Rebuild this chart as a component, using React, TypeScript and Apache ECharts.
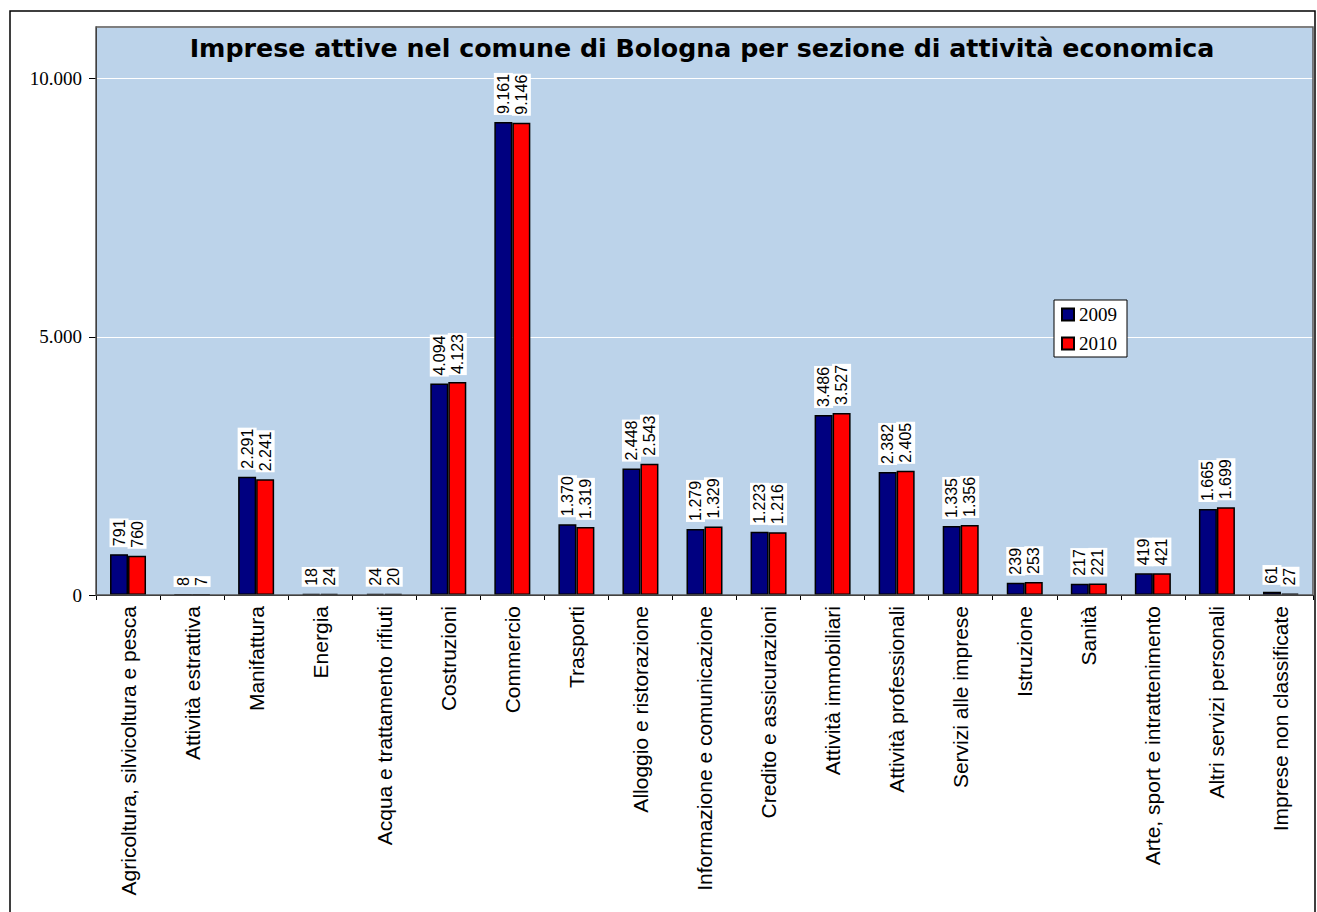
import React, { useEffect, useRef } from "react";
import * as echarts from "echarts";

const categories = [
  "Agricoltura, silvicoltura e pesca",
  "Attività estrattiva",
  "Manifattura",
  "Energia",
  "Acqua e trattamento rifiuti",
  "Costruzioni",
  "Commercio",
  "Trasporti",
  "Alloggio e ristorazione",
  "Informazione e comunicazione",
  "Credito e assicurazioni",
  "Attività immobiliari",
  "Attività professionali",
  "Servizi alle imprese",
  "Istruzione",
  "Sanità",
  "Arte, sport e intrattenimento",
  "Altri servizi personali",
  "Imprese non classificate",
];

const values2009 = [791, 8, 2291, 18, 24, 4094, 9161, 1370, 2448, 1279, 1223, 3486, 2382, 1335, 239, 217, 419, 1665, 61];
const values2010 = [760, 7, 2241, 24, 20, 4123, 9146, 1319, 2543, 1329, 1216, 3527, 2405, 1356, 253, 221, 421, 1699, 27];

const seriesNames = ["2009", "2010"];
const yTicks = [0, 5000, 10000];

const fmt = (v: number) => String(v).replace(/\B(?=(\d{3})+(?!\d))/g, ".");

export default function App() {
  const ref = useRef<HTMLDivElement>(null);
  useEffect(() => {
    document.body.style.margin = "0";
    document.body.style.overflow = "hidden";
    if (!ref.current) return;
    const chart = echarts.init(ref.current, null, { renderer: "svg" });
    const gridLeft = 96;
    const gridTop = 27;
    const gridW = 1217;
    const gridH = 568;
    const label = {
      show: true,
      position: "top",
      rotate: 90,
      align: "left",
      verticalAlign: "middle",
      distance: 7,
      fontFamily: "Liberation Sans",
      fontSize: 16,
      color: "#000",
      backgroundColor: "#fff",
      padding: [2, 1, 1, 1],
      formatter: (p: any) => fmt(p.value),
    };
    chart.setOption({
      animation: false,
      backgroundColor: "#fff",
      title: {
        text: "Imprese attive nel comune di Bologna per sezione di attività economica",
        left: 697,
        textAlign: "center",
        top: 31,
        textStyle: { fontFamily: "DejaVu Sans", fontWeight: "bold", fontSize: 25.3, color: "#000" },
      },
      legend: {
        data: seriesNames,
        orient: "vertical",
        left: 1054,
        top: 300,
        backgroundColor: "#fff",
        borderColor: "#000",
        borderWidth: 1,
        borderRadius: 0,
        padding: [5, 10, 4, 7],
        itemGap: 10,
        itemWidth: 12,
        itemHeight: 12,
        icon: "rect",
        textStyle: { fontFamily: "Liberation Serif", fontSize: 19, color: "#000", padding: [0, 0, 0, 0] },
      },
      grid: {
        left: gridLeft,
        top: gridTop,
        width: gridW,
        height: gridH,
        show: true,
        backgroundColor: "#BCD3EA",
        borderWidth: 0,
      },
      xAxis: {
        type: "category",
        data: categories,
        axisLine: { show: true, lineStyle: { color: "#000", width: 1 } },
        axisTick: { show: true, length: 5, lineStyle: { color: "#000" } },
        axisLabel: {
          rotate: 90,
          interval: 0,
          margin: 11,
          fontFamily: "Liberation Sans",
          fontSize: 21,
          color: "#000",
        },
      },
      yAxis: {
        type: "value",
        min: 0,
        max: 11000,
        interval: 5000,
        axisLine: { show: true, lineStyle: { color: "#000" } },
        axisTick: { show: true, length: 7, lineStyle: { color: "#000" } },
        axisLabel: {
          showMaxLabel: false,
          margin: 14,
          fontFamily: "Liberation Serif",
          fontSize: 19,
          color: "#000",
          formatter: (v: number) => (yTicks.includes(v) ? fmt(v) : ""),
        },
        splitLine: { show: true, lineStyle: { color: "#fff", width: 1 } },
      },
      series: [
        {
          name: seriesNames[0],
          type: "bar",
          data: values2009,
          barWidth: 18,
          barGap: "0%",
          itemStyle: { color: "#000080", borderColor: "#000", borderWidth: 1.5 },
          label,
        },
        {
          name: seriesNames[1],
          type: "bar",
          data: values2010,
          barWidth: 18,
          barGap: "0%",
          itemStyle: { color: "#FF0000", borderColor: "#000", borderWidth: 1.5 },
          label,
        },
      ],
      graphic: [
        {
          type: "rect",
          z: 100,
          silent: true,
          shape: { x: gridLeft, y: gridTop, width: gridW, height: gridH },
          style: { fill: "none", stroke: "#555", lineWidth: 1.5 },
        },
        {
          type: "rect",
          z: 100,
          silent: true,
          shape: { x: 10, y: 11, width: 1305, height: 1000 },
          style: { fill: "none", stroke: "#000", lineWidth: 1.5 },
        },
      ],
    });
    return () => chart.dispose();
  }, []);
  return <div ref={ref} style={{ width: 1317, height: 912 }} />;
}
